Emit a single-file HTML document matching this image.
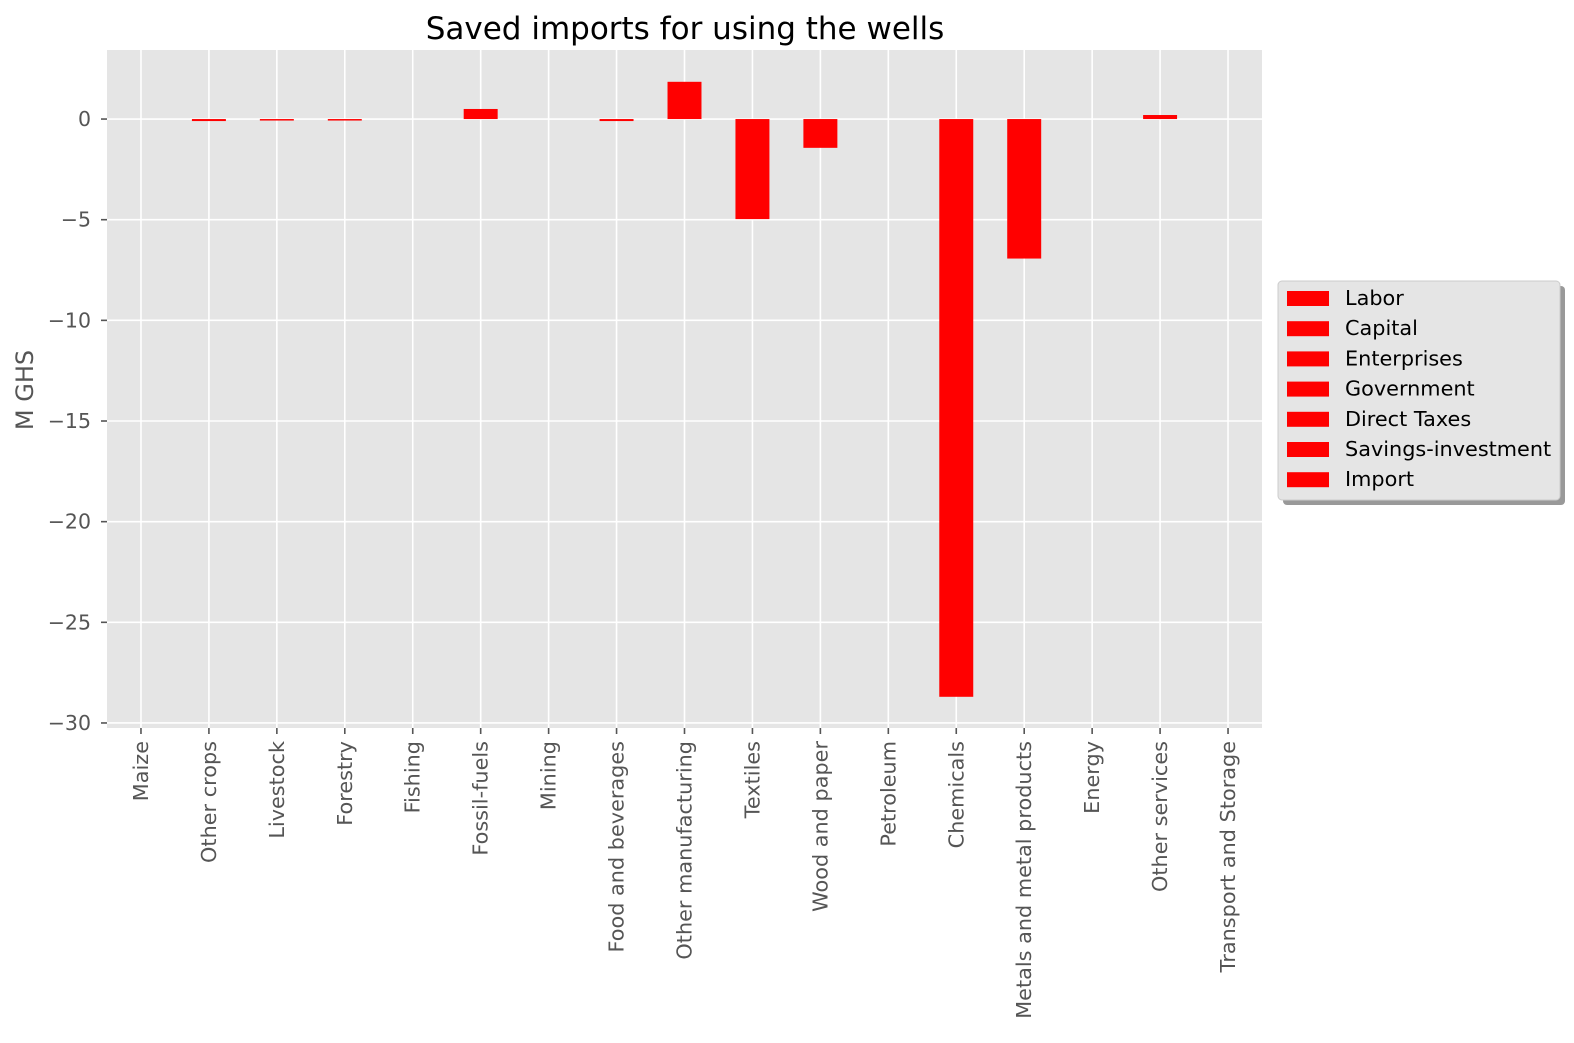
<!DOCTYPE html>
<html><head><meta charset="utf-8"><style>
body{margin:0;background:#fff;}
svg text{font-family:"DejaVu Sans","Liberation Sans",sans-serif;}
</style></head><body>
<svg id="chart" width="1574" height="1038" xmlns="http://www.w3.org/2000/svg">
<text x="685" y="39" font-size="31" text-anchor="middle" fill="#000">Saved imports for using the wells</text>
<rect x="107" y="50" width="1155" height="678" fill="#e5e5e5"/>
<g id="grid"></g><g id="bars"></g><g id="axes"></g>
<text transform="translate(33,390) rotate(-90)" font-size="24" text-anchor="middle" fill="#555">M GHS</text>
<g>
<rect x="1283" y="286" width="282" height="219" rx="4" fill="#999"/>
<rect x="1278" y="281" width="282" height="219" rx="4" fill="#e5e5e5" stroke="#ccc"/>
<g id="legend-items"></g>
</g>
</svg>
<script>
const categories=["Maize","Other crops","Livestock","Forestry","Fishing","Fossil-fuels","Mining","Food and beverages","Other manufacturing","Textiles","Wood and paper","Petroleum","Chemicals","Metals and metal products","Energy","Other services","Transport and Storage"];
const values=[0,-0.1,-0.05,-0.05,0,0.5,0,-0.1,1.85,-4.97,-1.43,0,-28.7,-6.93,0,0.2,0];
const yTicks=[0,-5,-10,-15,-20,-25,-30];
const yTickLabels=["0","\u22125","\u221210","\u221215","\u221220","\u221225","\u221230"];
const legendLabels=["Labor","Capital","Enterprises","Government","Direct Taxes","Savings-investment","Import"];
const NS="http://www.w3.org/2000/svg";
const X0=107,X1=1262,Y0=50,Y1=728;
const xMin=-0.5,xMax=categories.length-0.5,yMax=3.43,yMin=-30.25;
function xs(i){return X0+(i-xMin)/(xMax-xMin)*(X1-X0);}
function ys(v){return Y0+(yMax-v)/(yMax-yMin)*(Y1-Y0);}
function mk(tag,attrs,parent){const e=document.createElementNS(NS,tag);for(const k in attrs)e.setAttribute(k,attrs[k]);parent.appendChild(e);return e;}
const grid=document.getElementById('grid'),bars=document.getElementById('bars'),axes=document.getElementById('axes'),leg=document.getElementById('legend-items');
const bw=(xs(1)-xs(0))*0.5;
categories.forEach((c,i)=>{
  const x=xs(i);
  const g=mk('line',{x1:x,x2:x,y1:Y0,y2:Y1,stroke:'#fff','stroke-width':1.6},grid);
  
  
  const t=mk('line',{x1:x,x2:x,y1:Y1,y2:Y1+6,stroke:'#555','stroke-width':1.6},axes);
  
  
  const lb=mk('text',{transform:`translate(${x+7},${Y1+13}) rotate(-90)`,'font-size':20.8,'text-anchor':'end',fill:'#555'},axes);
  lb.textContent=c;
  
  
  const v=values[i];
  const y0=ys(0),y1=ys(v);
  const b=mk('rect',{x:x-bw/2,y:Math.min(y0,y1),width:bw,height:Math.max(Math.abs(y1-y0),v!==0?1.5:0),fill:'#ff0000'},bars);
  
  
});
yTicks.forEach((v,i)=>{
  const y=ys(v);
  const g=mk('line',{x1:X0,x2:X1,y1:y,y2:y,stroke:'#fff','stroke-width':1.6},grid);
  
  
  const t=mk('line',{x1:X0-6,x2:X0,y1:y,y2:y,stroke:'#555','stroke-width':1.6},axes);
  
  
  const lb=mk('text',{x:X0-16,y:y+7,'font-size':20.5,'text-anchor':'end',fill:'#555'},axes);
  lb.textContent=yTickLabels[i];
  
  
});
legendLabels.forEach((l,i)=>{
  const y=298+i*30.2;
  const p=mk('rect',{x:1287,y:y-7,width:42,height:15,fill:'#ff0000'},leg);
  
  
  const t=mk('text',{x:1345,y:y+7,'font-size':20.8,fill:'#000'},leg);
  t.textContent=l;
  
  
});
</script>
</body></html>
